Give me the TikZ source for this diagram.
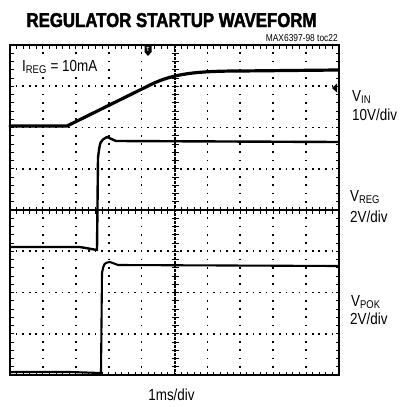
\documentclass[tikz,border=0pt]{standalone}
\usepackage{fontspec}
\newfontfamily\labelfont{Liberation Sans}[FakeStretch=0.84]
\newfontfamily\titlefont{Liberation Sans}[FakeStretch=0.84,BoldFeatures={FakeBold=2}]

\begin{document}
\begin{tikzpicture}[x=1pt,y=-1pt,
    scopeframe/.style={line width=2.4pt},
    griddot/.style={line width=1.7pt},
    tickmark/.style={line width=1pt},
    trace/.style={line width=2.4pt,line join=round,line cap=round},
    lbl/.style={inner sep=0pt,anchor=base west,font=\labelfont\fontsize{16}{16}\selectfont}]
\useasboundingbox (0,0) rectangle (399,407);

% major grid
\foreach \k in {1,2,3,4,6,7,8,9}
    \draw[griddot,dash pattern=on 1.7pt off 6.55pt,dash phase=0.85pt] ({10+32.9*\k},45) -- ({10+32.9*\k},375);
\foreach \k in {1,2,3,5,6,7}
    \draw[griddot,dash pattern=on 1.7pt off 4.88pt,dash phase=0.85pt] (10,{45+41.25*\k}) -- (339,{45+41.25*\k});

% centre axes with minor ticks
\draw[line width=1.6pt] (10,210) -- (339,210);
\draw[line width=1.3pt,dash pattern=on 2.5pt off 1.5pt] (175,45) -- (175,375);
\foreach \i in {1,...,49} {
    \draw[tickmark] ({10+6.58*\i},45) -- ++(0,3.5);
    \draw[tickmark] ({10+6.58*\i},375) -- ++(0,-3.5);
    \draw[tickmark] ({10+6.58*\i},206.5) -- ++(0,7);
}
\foreach \j in {1,...,39} {
    \draw[tickmark] (10,{45+8.25*\j}) -- ++(3.5,0);
    \draw[tickmark] (339,{45+8.25*\j}) -- ++(-3.5,0);
    \draw[tickmark] (171.5,{45+8.25*\j}) -- ++(7,0);
}

\draw[scopeframe] (10,45) rectangle (339,375);

% traces
\draw[trace,line width=3.2pt] (10,126) -- (67,126) -- (150,85)
    .. controls (172,74) and (195,71) .. (240,71) -- (338,70);
\draw[trace] (10,247) -- (80,247) -- (97,250) -- (98,158)
    .. controls (100,141) .. (107,137) -- (116,141) -- (338,142);
\draw[trace,line width=2.1pt] (11,372) -- (70,372) -- (101,373) -- (102,273)
    .. controls (104,263) .. (110,262) -- (118,265) -- (338,266);

% markers
\fill (144.5,45.5) -- (151.5,45.5) -- (151.5,52) -- (148,56) -- (144.5,52) -- cycle;
\node[text=white,inner sep=0pt,font=\labelfont\bfseries\fontsize{6}{6}\selectfont] (trig) at (148,49.5) {T};
\fill (337,83.5) -- (337,92.5) -- (332,88) -- cycle;

% texts
\node[anchor=base,inner sep=0pt,font=\titlefont\bfseries\fontsize{20}{20}\selectfont] (title) at (171.5,27) {REGULATOR STARTUP WAVEFORM};
\node[anchor=base east,inner sep=0pt,font=\labelfont\fontsize{10}{10}\selectfont] (tocid) at (338,41) {MAX6397-98 toc22};
\node[lbl,fill=white,inner xsep=1pt,inner ysep=2pt] (ireg) at (21,71) {I\textsubscript{REG} = 10mA};
\node[lbl] (vin) at (352,101) {V\textsubscript{IN}};
\node[lbl] (vinscale) at (352,120) {10V/div};
\node[lbl] (vreg) at (350,201) {V\textsubscript{REG}};
\node[lbl] (vregscale) at (350,222) {2V/div};
\node[lbl] (vpok) at (351,306) {V\textsubscript{POK}};
\node[lbl] (vpokscale) at (350,324) {2V/div};
\node[lbl,anchor=base] (timescale) at (171.5,400) {1ms/div};
\end{tikzpicture}
\end{document}
